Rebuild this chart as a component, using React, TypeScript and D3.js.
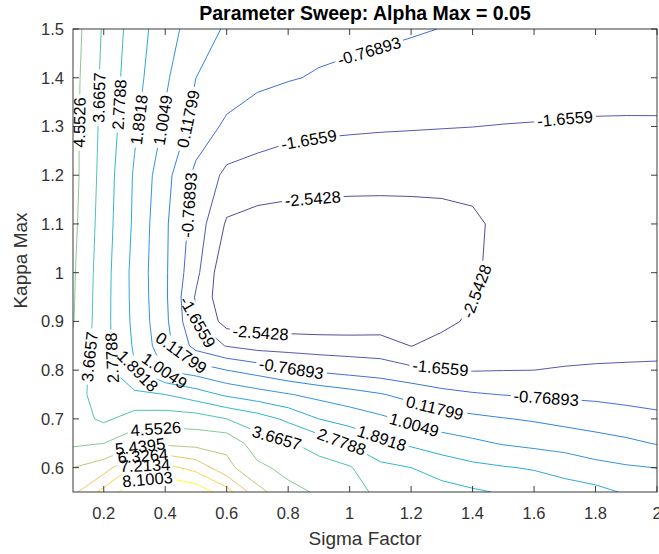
import React from 'react';
import * as d3 from 'd3';

// ---------------- data ----------------
const sigmaValues = [0.1, 0.2, 0.3, 0.4, 0.5, 0.6, 0.7, 0.8, 0.9, 1.0, 1.1, 1.2, 1.3, 1.4, 1.5, 1.6, 1.7, 1.8, 1.9, 2.0];
const kappaValues = [0.55, 0.6, 0.65, 0.7, 0.75, 0.8, 0.85, 0.9, 0.95, 1.0, 1.1, 1.2, 1.3, 1.4, 1.5];

// one row of the sweep result per kappa value (sigma 0.1 .. 2.0)
const zK055 = [6.1, 7.5, 8.75, 8.95, 8.7, 7.6, 5.74, 4.8, 4.45, 3.95, 3.5, 3.2, 3.1, 2.9, 2.7, 2.45, 2.25, 2.15, 1.8, 1.6];
const zK060 = [5.44, 5.9, 7.4, 7.5, 6.9, 5.7, 4.75, 4.3, 3.99, 3.74, 2.99, 2.78, 2.41, 2.11, 1.95, 1.82, 1.6, 1.27, 1.1, 0.99];
const zK065 = [4.4, 4.55, 5.15, 5.25, 5.15, 5.2, 4.07, 3.77, 3.31, 2.72, 2.11, 1.74, 1.42, 1.18, 0.94, 0.78, 0.63, 0.46, 0.29, 0.07];
const zK070 = [4.05, 3.5, 4.05, 4.15, 4.1, 3.67, 3.2, 2.6, 1.89, 1.52, 1.18, 0.82, 0.5, 0.32, 0.16, 0.03, -0.13, -0.28, -0.44, -0.59];
const zK075 = [4.05, 3.2, 2.95, 2.78, 2.3, 1.75, 1.39, 1.06, 0.74, 0.47, 0.18, -0.17, -0.5, -0.68, -0.79, -0.86, -0.92, -0.96, -1.03, -1.08];
const zK080 = [4.2, 3.1, 1.95, 0.95, 0.6, 0.118, -0.24, -0.64, -0.92, -1.09, -1.235, -1.45, -1.59, -1.7, -1.67, -1.656, -1.59, -1.55, -1.53, -1.51];
const zK085 = [4.42, 3.1, 1.78, 0.45, -1.1, -1.7, -1.99, -2.04, -2.08, -2.11, -2.13, -2.56, -2.28, -2.2, -2.1, -2.05, -2.0, -1.95, -1.92, -1.9];
const zK090 = [4.6, 3.1, 1.68, 0.32, -1.6, -2.9, -3.0, -3.05, -3.1, -3.1, -3.05, -3.0, -2.75, -2.4, -2.25, -2.2, -2.15, -2.1, -2.08, -2.05];
const zK095 = [4.64, 3.12, 1.64, 0.27, -1.75, -3.25, -3.3, -3.35, -3.38, -3.38, -3.35, -3.25, -2.95, -2.56, -2.3, -2.25, -2.2, -2.17, -2.15, -2.13];
const zK100 = [4.67, 3.15, 1.62, 0.25, -1.43, -3.3, -3.35, -3.4, -3.43, -3.42, -3.38, -3.3, -3.1, -2.65, -2.3, -2.25, -2.22, -2.2, -2.2, -2.2];
const zK110 = [4.78, 3.23, 1.74, 0.26, -1.16, -2.65, -2.9, -3.0, -3.05, -3.1, -3.1, -3.05, -2.95, -2.75, -2.25, -2.25, -2.2, -2.18, -2.17, -2.17];
const zK120 = [4.86, 3.31, 1.79, 0.44, -1.01, -1.85, -1.95, -2.05, -2.1, -2.12, -2.14, -2.15, -2.17, -2.18, -2.0, -1.95, -1.93, -1.92, -1.92, -1.93];
const zK130 = [4.84, 3.4, 2.03, 0.87, -0.21, -0.95, -1.3, -1.45, -1.52, -1.56, -1.59, -1.61, -1.63, -1.65, -1.68, -1.7, -1.73, -1.75, -1.75, -1.74];
const zK140 = [4.88, 3.46, 2.22, 1.15, 0.12, -0.22, -0.54, -0.71, -0.84, -0.92, -0.98, -1.04, -1.09, -1.14, -1.19, -1.23, -1.27, -1.3, -1.33, -1.36];
const zK150 = [4.96, 3.55, 2.35, 1.36, 0.61, 0.0, -0.25, -0.4, -0.5, -0.57, -0.64, -0.71, -0.78, -0.86, -0.93, -1.0, -1.05, -1.1, -1.15, -1.2];

const zRows = [zK055, zK060, zK065, zK070, zK075, zK080, zK085, zK090, zK095, zK100, zK110, zK120, zK130, zK140, zK150];

const levelLabels = ['-2.5428', '-1.6559', '-0.76893', '0.11799', '1.0049', '1.8918', '2.7788', '3.6657', '4.5526', '5.4395', '6.3264', '7.2134', '8.1003'];
const levels = levelLabels.map(Number);

const xTicks = [0.2, 0.4, 0.6, 0.8, 1, 1.2, 1.4, 1.6, 1.8, 2];
const yTicks = [0.6, 0.7, 0.8, 0.9, 1, 1.1, 1.2, 1.3, 1.4, 1.5];

// inline contour labels: level index and approximate location (sigma, kappa)
const labelLevel = [8, 7, 6, 5, 4, 3, 2, 2, 1, 1, 0, 0, 0, 1, 2, 1, 2, 3, 4, 5, 6, 7, 8, 9, 10, 11, 12, 7, 6, 5, 4, 3];
const labelSigma = [0.129, 0.188, 0.246, 0.311, 0.382, 0.454, 1.064, 0.473, 1.70, 0.87, 0.882, 1.408, 0.71, 0.503, 0.811, 1.295, 1.639, 1.275, 1.207, 1.103, 0.973, 0.766, 0.369, 0.318, 0.327, 0.334, 0.34, 0.162, 0.21, 0.305, 0.399, 0.454];
const labelKappa = [1.308, 1.359, 1.345, 1.314, 1.314, 1.318, 1.454, 1.139, 1.322, 1.263, 1.137, 0.963, 0.874, 0.897, 0.805, 0.80, 0.737, 0.718, 0.681, 0.657, 0.651, 0.667, 0.686, 0.647, 0.63, 0.614, 0.595, 0.827, 0.825, 0.79, 0.80, 0.837];

// ---------------- layout ----------------
const W = 659;
const H = 554;
const M = { left: 73, right: 657, top: 29, bottom: 492 };
const FONT = "'Liberation Sans', Arial, Helvetica, sans-serif";
const AX = '#262626';
const TXT = '#333333';

// parula colormap samples (entries 0,2,4,...,63 of the 64-entry map)
const parulaStops = [
  '#352A87', '#3637A0', '#3243BA', '#2053D4', '#0363E1', '#0D75DC', '#1485D4', '#0998D1',
  '#06A7C6', '#15B1B4', '#38B99E', '#65BE86', '#92BF73', '#B7BD64', '#D9BA56', '#F8BB44',
  '#FCCE2E', '#F5E41D', '#F9FB0E',
];
const parulaPos = [0, 2, 4, 6, 8, 12, 16, 20, 24, 28, 32, 36, 40, 44, 48, 52, 56, 60, 63].map((v) => v / 63);

type Pt = [number, number];

function textWidthEm(s: string) {
  let w = 0;
  for (const ch of s) w += ch === '.' ? 0.278 : ch === '-' ? 0.333 : 0.556;
  return w;
}

function nearest(lines: Pt[][], p: Pt) {
  let best = { d: Infinity, li: -1, s: 0 };
  lines.forEach((pts, li) => {
    let acc = 0;
    for (let i = 0; i < pts.length - 1; i++) {
      const [x1, y1] = pts[i];
      const [x2, y2] = pts[i + 1];
      const dx = x2 - x1, dy = y2 - y1;
      const L = Math.hypot(dx, dy);
      if (L === 0) continue;
      let t = ((p[0] - x1) * dx + (p[1] - y1) * dy) / (L * L);
      t = Math.max(0, Math.min(1, t));
      const qx = x1 + t * dx, qy = y1 + t * dy;
      const d = Math.hypot(p[0] - qx, p[1] - qy);
      if (d < best.d) best = { d, li, s: acc + t * L };
      acc += L;
    }
  });
  return best;
}

function pointAt(pts: Pt[], s: number): Pt {
  let acc = 0;
  if (s <= 0) return pts[0];
  for (let i = 0; i < pts.length - 1; i++) {
    const [x1, y1] = pts[i];
    const [x2, y2] = pts[i + 1];
    const L = Math.hypot(x2 - x1, y2 - y1);
    if (acc + L >= s && L > 0) {
      const t = (s - acc) / L;
      return [x1 + t * (x2 - x1), y1 + t * (y2 - y1)];
    }
    acc += L;
  }
  return pts[pts.length - 1];
}

export default function App() {
  const model = React.useMemo(() => {
    const n = sigmaValues.length;
    const m = kappaValues.length;
    const x = d3.scaleLinear().domain([0.1, 2]).range([M.left, M.right]);
    const y = d3.scaleLinear().domain([0.55, 1.5]).range([M.bottom, M.top]);
    const ixS = d3.scaleLinear().domain(d3.range(n)).range(sigmaValues);
    const iyK = d3.scaleLinear().domain(d3.range(m)).range(kappaValues);
    const parula = d3.scaleLinear<string>().domain(parulaPos).range(parulaStops).interpolate(d3.interpolateRgb);
    const colorOf = (li: number) => parula(Math.pow(li / (levels.length - 1), 1.3));

    const gen = d3.contours().size([n, m]).thresholds(levels).smooth(true);
    const cs = gen(zRows.flat());
    const eps = 1e-6;

    const levelLines: Pt[][][] = cs.map((c) => {
      const lines: Pt[][] = [];
      c.coordinates.forEach((poly) =>
        poly.forEach((ring) => {
          const idx = ring.map(([cx, cy]) => [
            Math.max(0, Math.min(n - 1, cx - 0.5)),
            Math.max(0, Math.min(m - 1, cy - 0.5)),
          ]);
          const px: Pt[] = idx.map(([ix, iy]) => [x(ixS(ix)), y(iyK(iy))]);
          const N = idx.length;
          const ok: boolean[] = [];
          for (let i = 0; i < N - 1; i++) {
            const a = idx[i], b = idx[i + 1];
            const edge =
              (a[0] < eps && b[0] < eps) ||
              (a[0] > n - 1 - eps && b[0] > n - 1 - eps) ||
              (a[1] < eps && b[1] < eps) ||
              (a[1] > m - 1 - eps && b[1] > m - 1 - eps);
            ok.push(!edge);
          }
          if (ok.every(Boolean)) {
            lines.push(px);
            return;
          }
          const k = ok.indexOf(false);
          let cur: Pt[] | null = null;
          for (let s = 1; s <= N - 1; s++) {
            const i = (k + s) % (N - 1);
            if (ok[i]) {
              if (!cur) cur = [px[i]];
              cur.push(px[i + 1]);
            } else if (cur) {
              lines.push(cur);
              cur = null;
            }
          }
          if (cur) lines.push(cur);
        })
      );
      return lines;
    });

    const fs = 16.5;
    const labels = labelLevel.map((li, j) => {
      const target: Pt = [x(labelSigma[j]), y(labelKappa[j])];
      const lines = levelLines[li];
      const b = nearest(lines, target);
      if (b.li < 0) return null;
      const pts = lines[b.li];
      const c = pointAt(pts, b.s);
      const p1 = pointAt(pts, b.s - 10);
      const p2 = pointAt(pts, b.s + 10);
      let a = (Math.atan2(p2[1] - p1[1], p2[0] - p1[0]) * 180) / Math.PI;
      if (a > 90) a -= 180;
      if (a < -90) a += 180;
      if (a > 80) a -= 180;
      const text = levelLabels[li];
      const w = textWidthEm(text) * fs + 6;
      return { li, x: c[0], y: c[1], a, text, w, h: fs * 0.95 };
    }).filter(Boolean) as { li: number; x: number; y: number; a: number; text: string; w: number; h: number }[];

    const line = d3.line<Pt>();
    return { x, y, colorOf, levelLines, labels, line, fs };
  }, []);

  const { x, y, colorOf, levelLines, labels, line, fs } = model;

  return (
    <svg width={W} height={H} style={{ position: 'absolute', left: 0, top: 0, background: '#fff' }} fontFamily={FONT}>
      <defs>
        <clipPath id="plotClip">
          <rect x={M.left} y={M.top} width={M.right - M.left} height={M.bottom - M.top} />
        </clipPath>
        {levels.map((_, li) => (
          <mask id={`lm${li}`} key={li} maskUnits="userSpaceOnUse" x={0} y={0} width={W} height={H}>
            <rect x={0} y={0} width={W} height={H} fill="#fff" />
            {labels.filter((l) => l.li === li).map((l, k) => (
              <rect key={k} x={-l.w / 2} y={-l.h / 2} width={l.w} height={l.h} fill="#000"
                transform={`translate(${l.x},${l.y}) rotate(${l.a})`} />
            ))}
          </mask>
        ))}
      </defs>
      <rect x={M.left} y={M.top} width={M.right - M.left} height={M.bottom - M.top} fill="#fff" />
      <g clipPath="url(#plotClip)">
        {levelLines.map((lines, li) => (
          <g key={li} mask={`url(#lm${li})`}>
            {lines.map((pts, k) => (
              <path key={k} d={line(pts) || ''} fill="none" stroke={colorOf(li)} strokeWidth={0.85} strokeLinejoin="round" />
            ))}
          </g>
        ))}
      </g>
      {labels.map((l, k) => (
        <text key={k} transform={`translate(${l.x},${l.y}) rotate(${l.a})`} textAnchor="middle" dominantBaseline="central"
          fontSize={fs} fill="#000">{l.text}</text>
      ))}
      {/* axes box */}
      <rect x={M.left} y={M.top} width={M.right - M.left} height={M.bottom - M.top} fill="none" stroke={AX} strokeWidth={0.9} />
      {xTicks.map((t) => (
        <g key={`xt${t}`}>
          <line x1={x(t)} x2={x(t)} y1={M.bottom} y2={M.bottom - 6} stroke={AX} strokeWidth={0.9} />
          <line x1={x(t)} x2={x(t)} y1={M.top} y2={M.top + 6} stroke={AX} strokeWidth={0.9} />
          <text x={x(t)} y={519} textAnchor="middle" fontSize={16.5} fill={TXT}>{String(t)}</text>
        </g>
      ))}
      {yTicks.map((t) => (
        <g key={`yt${t}`}>
          <line x1={M.left} x2={M.left + 6} y1={y(t)} y2={y(t)} stroke={AX} strokeWidth={0.9} />
          <line x1={M.right} x2={M.right - 6} y1={y(t)} y2={y(t)} stroke={AX} strokeWidth={0.9} />
          <text x={M.left - 9} y={y(t)} textAnchor="end" dominantBaseline="central" fontSize={16.5} fill={TXT}>{String(t)}</text>
        </g>
      ))}
      <text x={(M.left + M.right) / 2} y={20} textAnchor="middle" fontSize={19.5} fontWeight="bold" fill="#000">
        Parameter Sweep: Alpha Max = 0.05
      </text>
      <text x={(M.left + M.right) / 2} y={545} textAnchor="middle" fontSize={19} fill={TXT}>Sigma Factor</text>
      <text transform={`translate(27,${(M.top + M.bottom) / 2}) rotate(-90)`} textAnchor="middle" fontSize={19} fill={TXT}>Kappa Max</text>
    </svg>
  );
}
